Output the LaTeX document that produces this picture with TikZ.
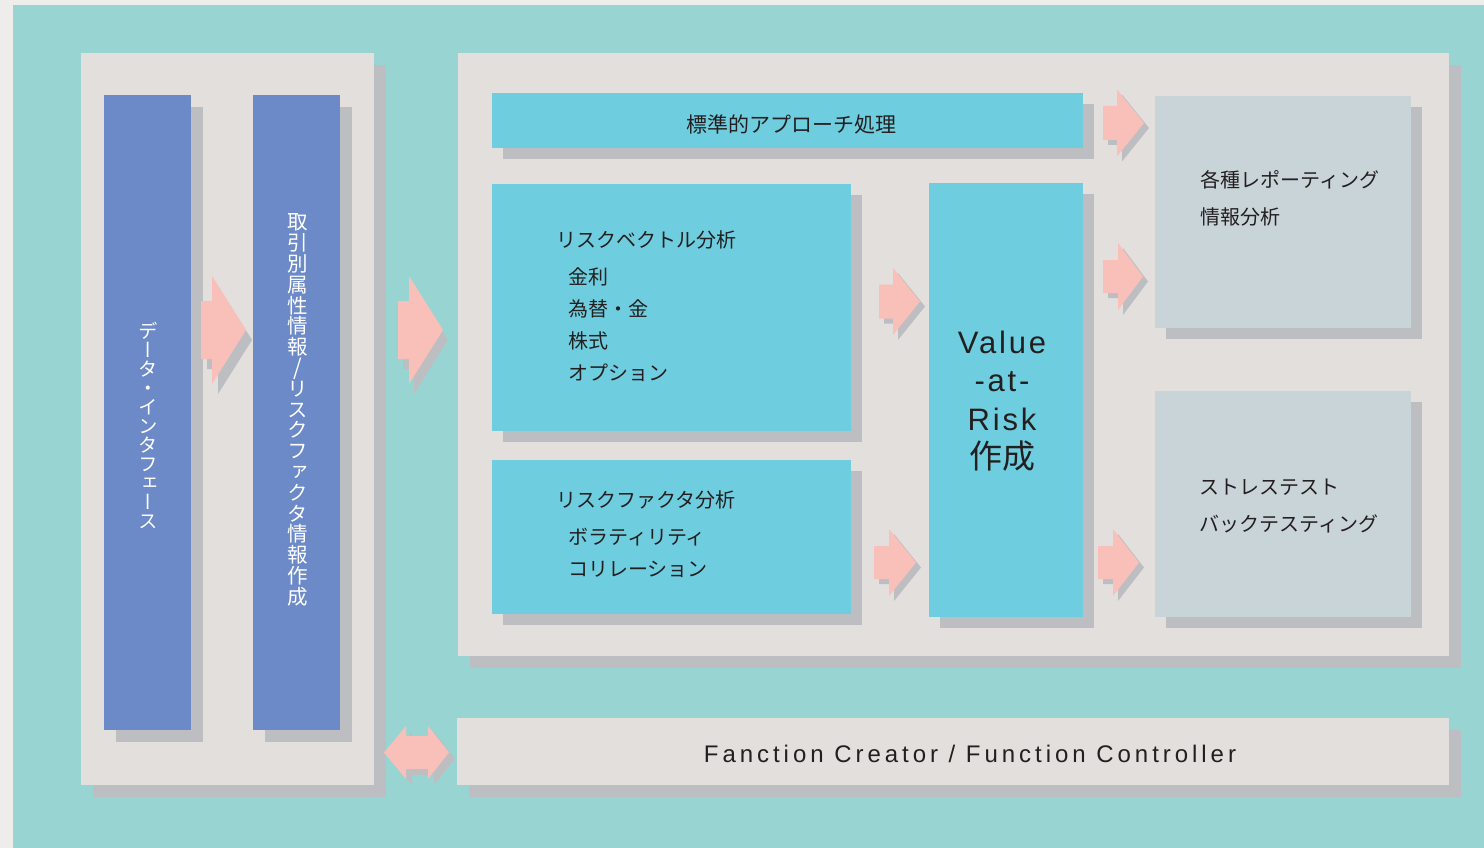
\documentclass[tikz,border=0pt]{standalone}
\usepackage{fontspec}
\setmainfont{Liberation Sans}
\newfontfamily\jp{Noto Sans CJK JP}
\newfontfamily\jpv[RawFeature=+vert]{Noto Sans CJK JP}
\newfontfamily\latvar[LetterSpace=9]{Liberation Sans}
\newfontfamily\latbar[LetterSpace=16.5]{Liberation Sans}
\usetikzlibrary{shadows}
\newcommand\tightlines{\lineskiplimit=-100pt\relax\lineskip=0pt\relax}
\definecolor{outergrey}{HTML}{EFEDEB}
\definecolor{teal0}{HTML}{98D5D2}
\definecolor{panelbg}{HTML}{E3DFDC}
\definecolor{shadowgrey}{HTML}{BDBEC2}
\definecolor{barblue}{HTML}{6C8AC7}
\definecolor{boxcyan}{HTML}{6ECEDF}
\definecolor{boxpale}{HTML}{C9D4D9}
\definecolor{arrowpink}{HTML}{F9BFB9}
\definecolor{txt}{HTML}{231F20}
\tikzset{
  blk/.style={anchor=north west, inner sep=0pt, outer sep=0pt, draw=none},
  sh12/.style={drop shadow={shadow xshift=12pt, shadow yshift=-12pt, fill=shadowgrey, opacity=1}},
  sh11/.style={drop shadow={shadow xshift=11pt, shadow yshift=-11pt, fill=shadowgrey, opacity=1}},
  panel/.style={blk, sh12, fill=panelbg},
  bluebar/.style={blk, sh12, fill=barblue},
  cyanbox/.style={blk, sh11, fill=boxcyan},
  palebox/.style={blk, sh11, fill=boxpale},
  jtext/.style={anchor=west, inner sep=0pt, text=txt, font=\fontsize{20}{24}\selectfont\jp},
  vtext/.style={inner sep=0pt, text=white, align=center},
  ashadow/.style={fill=shadowgrey},
  apink/.style={fill=arrowpink},
}
% #1 shaft left, #2 head base, #3 tip, #4 centre y, #5 shaft half, #6 head half, #7 dx, #8 dy
\newcommand\pinkarrow[8]{%
  \begin{scope}[shift={(#7,#8)}]
    \fill[ashadow] (#1,#4-#5) -- (#2,#4-#5) -- (#2,#4-#6) -- (#3,#4) -- (#2,#4+#6) -- (#2,#4+#5) -- (#1,#4+#5) -- cycle;
  \end{scope}
  \fill[apink] (#1,#4-#5) -- (#2,#4-#5) -- (#2,#4-#6) -- (#3,#4) -- (#2,#4+#6) -- (#2,#4+#5) -- (#1,#4+#5) -- cycle;
}
\begin{document}
\begin{tikzpicture}[x=1pt,y=-1pt]
\path[use as bounding box, fill=outergrey] (0,0) rectangle (1484,848);
\fill[teal0] (13,5) rectangle (1484,848);

% panels
\node[panel, minimum width=293pt, minimum height=732pt] (leftpanel) at (81,53) {};
\node[panel, minimum width=991pt, minimum height=603pt] (rightpanel) at (458,53) {};
\node[panel, minimum width=992pt, minimum height=67pt] (ctrl) at (457,718) {};

% blue bars
\node[bluebar, minimum width=87pt, minimum height=635pt] (bar1) at (104,95) {};
\node[bluebar, minimum width=87pt, minimum height=635pt] (bar2) at (253,95) {};

% inner boxes
\node[cyanbox, minimum width=591pt, minimum height=55pt] (std) at (492,93) {};
\node[cyanbox, minimum width=359pt, minimum height=247pt] (rv) at (492,184) {};
\node[cyanbox, minimum width=359pt, minimum height=154pt] (rf) at (492,460) {};
\node[cyanbox, minimum width=154pt, minimum height=434pt] (var) at (929,183) {};
\node[palebox, minimum width=256pt, minimum height=232pt] (rep) at (1155,96) {};
\node[palebox, minimum width=256pt, minimum height=226pt] (st) at (1155,391) {};

% vertical texts
\node[vtext, font=\fontsize{19.5}{19}\selectfont\jpv\tightlines] (vt1) at (148,425)
  {デ\\ー\\タ\\・\\イ\\ン\\タ\\フ\\ェ\\ー\\ス};
\node[vtext, font=\fontsize{20.5}{20.8}\selectfont\jpv\tightlines] (vt2) at (297.5,410)
  {取\\引\\別\\属\\性\\情\\報\\{\fontsize{22}{20.8}\selectfont\jp /}\\リ\\ス\\ク\\フ\\ァ\\ク\\タ\\情\\報\\作\\成};

% texts in boxes
\node[inner sep=0pt, text=txt, font=\fontsize{21}{24}\selectfont\jp] (stdt) at (791,124) {標準的アプローチ処理};
\node[jtext] (rv0) at (556,240) {リスクベクトル分析};
\node[jtext] (rv1) at (568,277) {金利};
\node[jtext] (rv2) at (568,309) {為替・金};
\node[jtext] (rv3) at (568,341) {株式};
\node[jtext] (rv4) at (568,373) {オプション};
\node[jtext] (rf0) at (556,500) {リスクファクタ分析};
\node[jtext] (rf1) at (568,537) {ボラティリティ};
\node[jtext] (rf2) at (568,569) {コリレーション};
\node[jtext] (rep0) at (1200,180) {各種レポーティング};
\node[jtext] (rep1) at (1200,217) {情報分析};
\node[jtext] (st0) at (1199,487) {ストレステスト};
\node[jtext] (st1) at (1199,524) {バックテスティング};
\node[inner sep=0pt, text=txt, align=center, font=\fontsize{31}{38.5}\selectfont\latvar\tightlines] (vart) at (1002,401)
  {Value\\-at-\\Risk\\{\fontsize{33}{38.5}\selectfont\jp 作成}};
\node[inner sep=0pt, text=txt, font=\fontsize{24}{28}\selectfont\latbar] (ctrlt) at (970,754)
  {Fanction Creator / Function Controller};

% block arrows
\pinkarrow{201}{212}{246}{330}{29}{54}{6}{10}
\pinkarrow{398}{409}{443}{330}{29}{54}{5}{10}
\pinkarrow{1103}{1117}{1144}{123}{17}{33.5}{5}{5}
\pinkarrow{1103}{1118}{1143}{276.5}{16.5}{33.5}{5}{5}
\pinkarrow{879}{893}{920}{301.5}{17}{33.5}{5}{5}
\pinkarrow{874}{889}{916}{562.5}{16.5}{33.5}{5}{5}
\pinkarrow{1098}{1113}{1139}{562.5}{16.5}{33.5}{5}{5}

% double arrow between panels
\begin{scope}[shift={(6,6)}]
\fill[ashadow] (384,752.5) -- (406,726) -- (406,736) -- (428,736) -- (428,726) -- (449,752.5) -- (428,779) -- (428,769) -- (406,769) -- (406,779) -- cycle;
\end{scope}
\fill[apink] (384,752.5) -- (406,726) -- (406,736) -- (428,736) -- (428,726) -- (449,752.5) -- (428,779) -- (428,769) -- (406,769) -- (406,779) -- cycle;
\end{tikzpicture}
\end{document}
